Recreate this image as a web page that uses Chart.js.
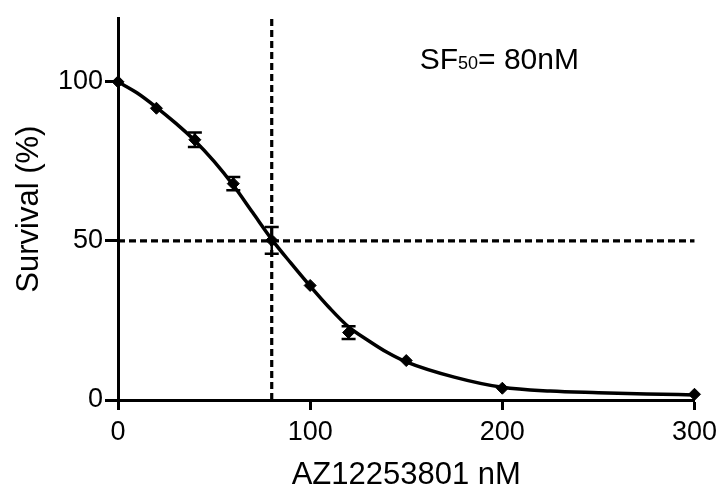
<!DOCTYPE html>
<html>
<head>
<meta charset="utf-8">
<script src="https://cdn.jsdelivr.net/npm/chart.js@4.4.1/dist/chart.umd.min.js"></script>
<style>html,body{margin:0;padding:0;background:#fff}</style>
</head>
<body>
<canvas id="chart" width="723" height="494"></canvas>
<script>
// measured survival points (mean +/- error)
const doses = [0, 20, 40, 60, 80, 100, 120, 150, 200, 300];
const survival = [100, 91.7, 81.8, 68, 50.2, 36, 21.2, 12.4, 3.7, 1.8];
const survivalErr = [0, 0, 2.3, 2.1, 4.2, 0, 2, 0, 0, 0];

// fitted curve
const fitDoses = [0, 10, 20, 30, 40, 50, 60, 70, 80, 90, 100, 110, 120, 130, 140, 150, 175, 200, 225, 250, 275, 300];
const fitSurvival = [100, 96.5, 92, 87, 81.5, 75, 67.5, 59, 50.5, 43, 35.8, 29, 23, 18.8, 15, 12, 7.2, 4, 2.8, 2.3, 1.9, 1.6];

const xTicks = [0, 100, 200, 300];
const yTicks = [0, 50, 100];
const sf50 = 80;
const halfSurvival = 50;

Chart.defaults.font.family = "'Liberation Sans', Arial, sans-serif";
Chart.defaults.color = '#000';

const errorBars = {
  id: 'errorBars',
  afterDatasetsDraw(chart) {
    const { ctx, scales: { x, y } } = chart;
    ctx.save();
    ctx.strokeStyle = '#000';
    ctx.lineWidth = 2.5;
    doses.forEach((d, i) => {
      const e = survivalErr[i];
      if (!e) return;
      const px = x.getPixelForValue(d);
      const top = y.getPixelForValue(survival[i] + e);
      const bot = y.getPixelForValue(survival[i] - e);
      ctx.beginPath();
      ctx.moveTo(px, top); ctx.lineTo(px, bot);
      ctx.moveTo(px - 7, top); ctx.lineTo(px + 7, top);
      ctx.moveTo(px - 7, bot); ctx.lineTo(px + 7, bot);
      ctx.stroke();
    });
    ctx.restore();
  }
};

const sfLabel = {
  id: 'sfLabel',
  afterDraw(chart) {
    const { ctx, scales: { x, y } } = chart;
    let px = x.getPixelForValue(157);
    const py = y.getPixelForValue(104);
    ctx.save();
    ctx.fillStyle = '#000';
    ctx.textBaseline = 'alphabetic';
    ctx.font = "30px 'Liberation Sans', Arial, sans-serif";
    ctx.fillText('SF', px, py);
    px += ctx.measureText('SF').width;
    ctx.font = "18px 'Liberation Sans', Arial, sans-serif";
    ctx.fillText('50', px, py);
    px += ctx.measureText('50').width;
    ctx.font = "30px 'Liberation Sans', Arial, sans-serif";
    ctx.fillText('= 80nM', px, py);
    ctx.restore();
  }
};

new Chart(document.getElementById('chart'), {
  type: 'scatter',
  data: {
    datasets: [
      {
        type: 'line',
        data: fitDoses.map((d, i) => ({ x: d, y: fitSurvival[i] })),
        borderColor: '#000',
        borderWidth: 3.5,
        pointRadius: 0,
        cubicInterpolationMode: 'monotone',
        clip: false,
      },
      {
        data: doses.map((d, i) => ({ x: d, y: survival[i] })),
        pointStyle: 'rectRot',
        pointRadius: 6,
        backgroundColor: '#000',
        borderColor: '#000',
        clip: false,
      },
      {
        type: 'line',
        data: [{ x: 0, y: halfSurvival }, { x: 300, y: halfSurvival }],
        borderColor: '#000',
        borderWidth: 3.2,
        borderDash: [7, 4],
        pointRadius: 0,
        clip: false,
      },
      {
        type: 'line',
        data: [{ x: sf50, y: 0 }, { x: sf50, y: 120 }],
        borderColor: '#000',
        borderWidth: 3.2,
        borderDash: [7, 4],
        pointRadius: 0,
        clip: false,
      },
    ],
  },
  options: {
    responsive: false,
    animation: false,
    devicePixelRatio: 1,
    layout: { padding: { top: 15, right: 27, left: 0, bottom: 0 } },
    plugins: { legend: { display: false }, tooltip: { enabled: false } },
    scales: {
      x: {
        type: 'linear',
        min: 0,
        max: 300,
        afterBuildTicks: (scale) => { scale.ticks = xTicks.map(v => ({ value: v })); },
        afterFit: (scale) => { scale.height = 94; },
        border: { display: true, color: '#000', width: 3 },
        grid: { drawOnChartArea: false, tickLength: 10, tickWidth: 3, tickColor: '#000' },
        ticks: { font: { size: 27 }, color: '#000', padding: 6, maxRotation: 0 },
        title: { display: true, text: 'AZ12253801 nM', font: { size: 31 }, color: '#000', padding: { top: 0, bottom: 0 } },
      },
      y: {
        min: 0,
        max: 120,
        afterBuildTicks: (scale) => { scale.ticks = yTicks.map(v => ({ value: v })); },
        afterFit: (scale) => { scale.width = 118; },
        border: { display: true, color: '#000', width: 3 },
        grid: { drawOnChartArea: false, tickLength: 13, tickWidth: 3, tickColor: '#000' },
        ticks: { font: { size: 27 }, color: '#000', padding: 2 },
        title: { display: true, text: 'Survival (%)', font: { size: 31 }, color: '#000', padding: { top: 11, bottom: 0 } },
      },
    },
  },
  plugins: [errorBars, sfLabel],
});
</script>
</body>
</html>
